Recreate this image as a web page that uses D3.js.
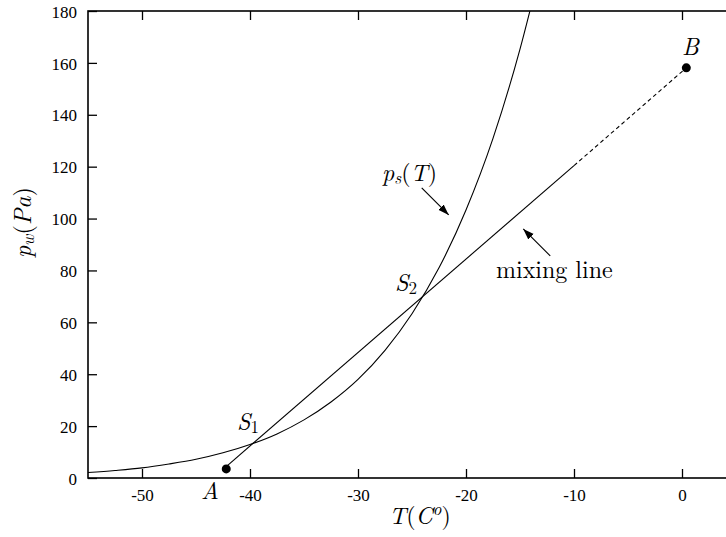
<!DOCTYPE html>
<html>
<head>
<meta charset="utf-8">
<script src="https://cdn.jsdelivr.net/npm/d3@7"></script>
</head>
<body style="margin:0; background:#fff">
<div id="chart"></div>
<script>
// saturation pressure curve p_s(T)
const tempC = [-55, -52.5, -50, -47.5, -45, -42.5, -40, -37.5, -35, -32.5, -30, -27.5, -25, -22.5, -20, -17.5, -15, -13.5];
const satPa = [2.1, 2.9, 3.9, 5.4, 7.2, 9.7, 12.9, 17.0, 22.4, 29.3, 38.0, 49.2, 63.3, 81.0, 103.3, 130.9, 165.3, 189.7];

// mixing line A -> B, dashed after T = -10
const mixSolid = [[-42.2, 4.4], [-10, 120.4]];
const mixDashed = [[-10, 120.4], [0.4, 158.1]];
const pointA = [-42.2, 3.5];
const pointB = [0.4, 158.1];

// axis ticks
const xTicks = [-50, -40, -30, -20, -10, 0];
const yTicks = [0, 20, 40, 60, 80, 100, 120, 140, 160, 180];

const width = 726;
const height = 537;
const margin = { top: 11, right: -10, bottom: 59, left: 88 };
const tickFont = '"Liberation Serif"';
const texFont = '"Latin Modern Roman", "Liberation Serif", serif';

const svg = d3.select("#chart")
  .append("svg")
  .attr("width", width)
  .attr("height", height);

const x = d3.scaleLinear()
  .domain([-55, 5])
  .range([margin.left, width - margin.right]);

const y = d3.scaleLinear()
  .domain([0, 180])
  .range([height - margin.bottom, margin.top]);

const defs = svg.append("defs");
defs.append("clipPath")
  .attr("id", "clip")
  .append("rect")
  .attr("x", x(-55))
  .attr("y", y(180))
  .attr("width", x(5) - x(-55))
  .attr("height", y(0) - y(180));

defs.append("marker")
  .attr("id", "head")
  .attr("viewBox", "0 0 10 10")
  .attr("refX", 10)
  .attr("refY", 5)
  .attr("markerWidth", 11)
  .attr("markerHeight", 11)
  .attr("markerUnits", "userSpaceOnUse")
  .attr("orient", "auto")
  .append("path")
  .attr("d", "M0,1.5 L10,5 L0,8.5 Z")
  .attr("fill", "#000");

// axes, ticks pointing inwards on all four sides
const axBottom = svg.append("g")
  .attr("transform", `translate(0,${y(0)})`)
  .call(d3.axisBottom(x).tickValues(xTicks).tickSizeInner(-9).tickSizeOuter(0)
    .tickFormat(d => String(d)));
const axTop = svg.append("g")
  .attr("transform", `translate(0,${y(180)})`)
  .call(d3.axisTop(x).tickValues(xTicks).tickSizeInner(-9).tickSizeOuter(0).tickFormat(""));
const axLeft = svg.append("g")
  .attr("transform", `translate(${x(-55)},0)`)
  .call(d3.axisLeft(y).tickValues(yTicks).tickSizeInner(-9).tickSizeOuter(0).tickPadding(11));
const axRight = svg.append("g")
  .attr("transform", `translate(${x(5)},0)`)
  .call(d3.axisRight(y).tickValues(yTicks).tickSizeInner(-9).tickSizeOuter(0).tickFormat(""));

[axBottom, axTop, axLeft, axRight].forEach(g => {
  g.attr("font-family", null).attr("font-size", null)
    .style("font-family", tickFont)
    .style("font-size", "17px");
  g.select(".domain").remove();
  g.selectAll(".tick line").attr("stroke", "#000").attr("stroke-width", 1.3);
  g.selectAll(".tick text")
    .style("font-family", tickFont)
    .style("font-size", "17px")
    .attr("fill", "#000");
});
axLeft.selectAll(".tick text").attr("dy", "0.36em");
axBottom.selectAll(".tick text").attr("dy", null).attr("y", 23);

svg.append("rect")
  .attr("x", x(-55))
  .attr("y", y(180))
  .attr("width", x(5) - x(-55))
  .attr("height", y(0) - y(180))
  .attr("fill", "none")
  .attr("stroke", "#000")
  .attr("stroke-width", 1.6);

// saturation curve
const curve = d3.line().x(d => x(d[0])).y(d => y(d[1])).curve(d3.curveMonotoneX);
svg.append("path")
  .datum(d3.zip(tempC, satPa))
  .attr("clip-path", "url(#clip)")
  .attr("d", curve)
  .attr("fill", "none")
  .attr("stroke", "#000")
  .attr("stroke-width", 1.1);

const straight = d3.line().x(d => x(d[0])).y(d => y(d[1]));

svg.append("path")
  .datum(mixSolid)
  .attr("d", straight)
  .attr("fill", "none")
  .attr("stroke", "#000")
  .attr("stroke-width", 1.1);

svg.append("path")
  .datum(mixDashed)
  .attr("d", straight)
  .attr("fill", "none")
  .attr("stroke", "#000")
  .attr("stroke-width", 1.1)
  .attr("stroke-dasharray", "4,3");

svg.selectAll("circle.pt")
  .data([pointA, pointB])
  .join("circle")
  .attr("class", "pt")
  .attr("cx", d => x(d[0]))
  .attr("cy", d => y(d[1]))
  .attr("r", 4.5)
  .attr("fill", "#000");

// arrows to the labels
const arrows = [
  [[-24.1, 111.8], [-21.6, 101.4]],
  [[-12.2, 85.6], [-14.7, 96.0]]
];
svg.selectAll("line.arrow")
  .data(arrows)
  .join("line")
  .attr("class", "arrow")
  .attr("x1", d => x(d[0][0]))
  .attr("y1", d => y(d[0][1]))
  .attr("x2", d => x(d[1][0]))
  .attr("y2", d => y(d[1][1]))
  .attr("stroke", "#000")
  .attr("stroke-width", 1.1)
  .attr("marker-end", "url(#head)");

// labels: each part is [text, italic, size, dy]
function label(tx, ty, parts) {
  const t = svg.append("text")
    .attr("x", tx)
    .attr("y", ty)
    .attr("fill", "#000")
    .style("font-family", texFont)
    .style("font-size", "24px");
  parts.forEach(([s, it, size, dy]) => {
    t.append("tspan")
      .style("font-style", it ? "italic" : "normal")
      .style("font-size", (size || 24) + "px")
      .attr("dy", dy || 0)
      .text(s);
  });
  return t;
}

label(682, 55, [["B", true]]);
label(201, 499, [["A", true]]);
label(237, 430, [["S", true], ["1", false, 17, 3]]);
label(395, 291, [["S", true], ["2", false, 17, 3]]);
label(382, 181, [["p", true], ["s", true, 17, 3], ["(", false, 24, -3], ["T", true], [")", false]]);
label(496, 278, [["mixing line", false]]);

// axis titles
label(389, 524, [["T", true], ["(", false], ["C", true], ["o", true, 17, -9], [")", false, 24, 9]]);

const yl = label(0, 0, [["p", true], ["w", true, 17, 3], ["(", false, 24, -3], ["Pa", true], [")", false]]);
yl.attr("transform", "translate(31,258) rotate(-90)");
</script>
</body>
</html>
